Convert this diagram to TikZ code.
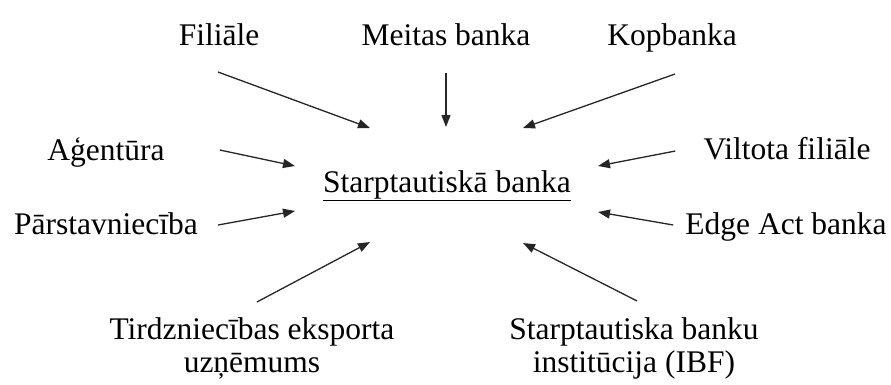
\documentclass[tikz,border=0pt]{standalone}
\usepackage{fontspec}
\setmainfont{Liberation Serif}
\usetikzlibrary{arrows.meta}

\tikzset{
  lbl/.style={inner sep=0pt, anchor=base, font=\fontsize{31.5}{33}\selectfont, align=center},
  arr/.style={-{Triangle[length=12pt,width=9pt]}, line width=1.3pt, draw=black!85}
}

\begin{document}
\begin{tikzpicture}[x=1pt,y=-1pt]
  \useasboundingbox (0,0) rectangle (891,384);
  % centre
  \node[lbl] (cen) at (447,192) {\underline{Starptautiskā banka}};
  % top row
  \node[lbl] (fil) at (219,45) {Filiāle};
  \node[lbl] (mei) at (446,45) {Meitas banka};
  \node[lbl] (kop) at (672,45) {Kopbanka};
  % sides
  \node[lbl] (age) at (106,160) {Aģentūra};
  \node[lbl] (vil) at (787,159) {Viltota filiāle};
  \node[lbl] (par) at (106,234) {Pārstavniecība};
  \node[lbl] (edg) at (786,234) {Edge Act banka};
  % bottom row (base = last line)
  \node[lbl] (tir) at (252,372) {Tirdzniecības eksporta\\uzņēmums};
  \node[lbl] (ibf) at (634,372) {Starptautiska banku\\institūcija (IBF)};

  % arrow tips round the centre
  \coordinate (t1) at (370,128);
  \coordinate (t2) at (446,127);
  \coordinate (t3) at (523,128);
  \coordinate (t4) at (295,166);
  \coordinate (t5) at (598,166);
  \coordinate (t6) at (295,211);
  \coordinate (t7) at (598,212);
  \coordinate (t8) at (370,242);
  \coordinate (t9) at (523,243);

  \draw[arr] ([xshift=-1pt,yshift=-27pt]fil.base) -- (t1);
  \draw[arr] ([yshift=-28pt]mei.base) -- (t2);
  \draw[arr] ([xshift=3pt,yshift=-29pt]kop.base) -- (t3);
  \draw[arr] ([xshift=55pt,yshift=10pt]age.base east) -- (t4);
  \draw[arr] ([xshift=-28pt,yshift=8pt]vil.base west) -- (t5);
  \draw[arr] ([xshift=20pt,yshift=9pt]par.base east) -- (t6);
  \draw[arr] ([xshift=-12pt,yshift=9pt]edg.base west) -- (t7);
  \draw[arr] ([xshift=5pt,yshift=15pt]tir.north) -- (t8);
  \draw[arr] ([xshift=3pt,yshift=16pt]ibf.north) -- (t9);
\end{tikzpicture}
\end{document}
